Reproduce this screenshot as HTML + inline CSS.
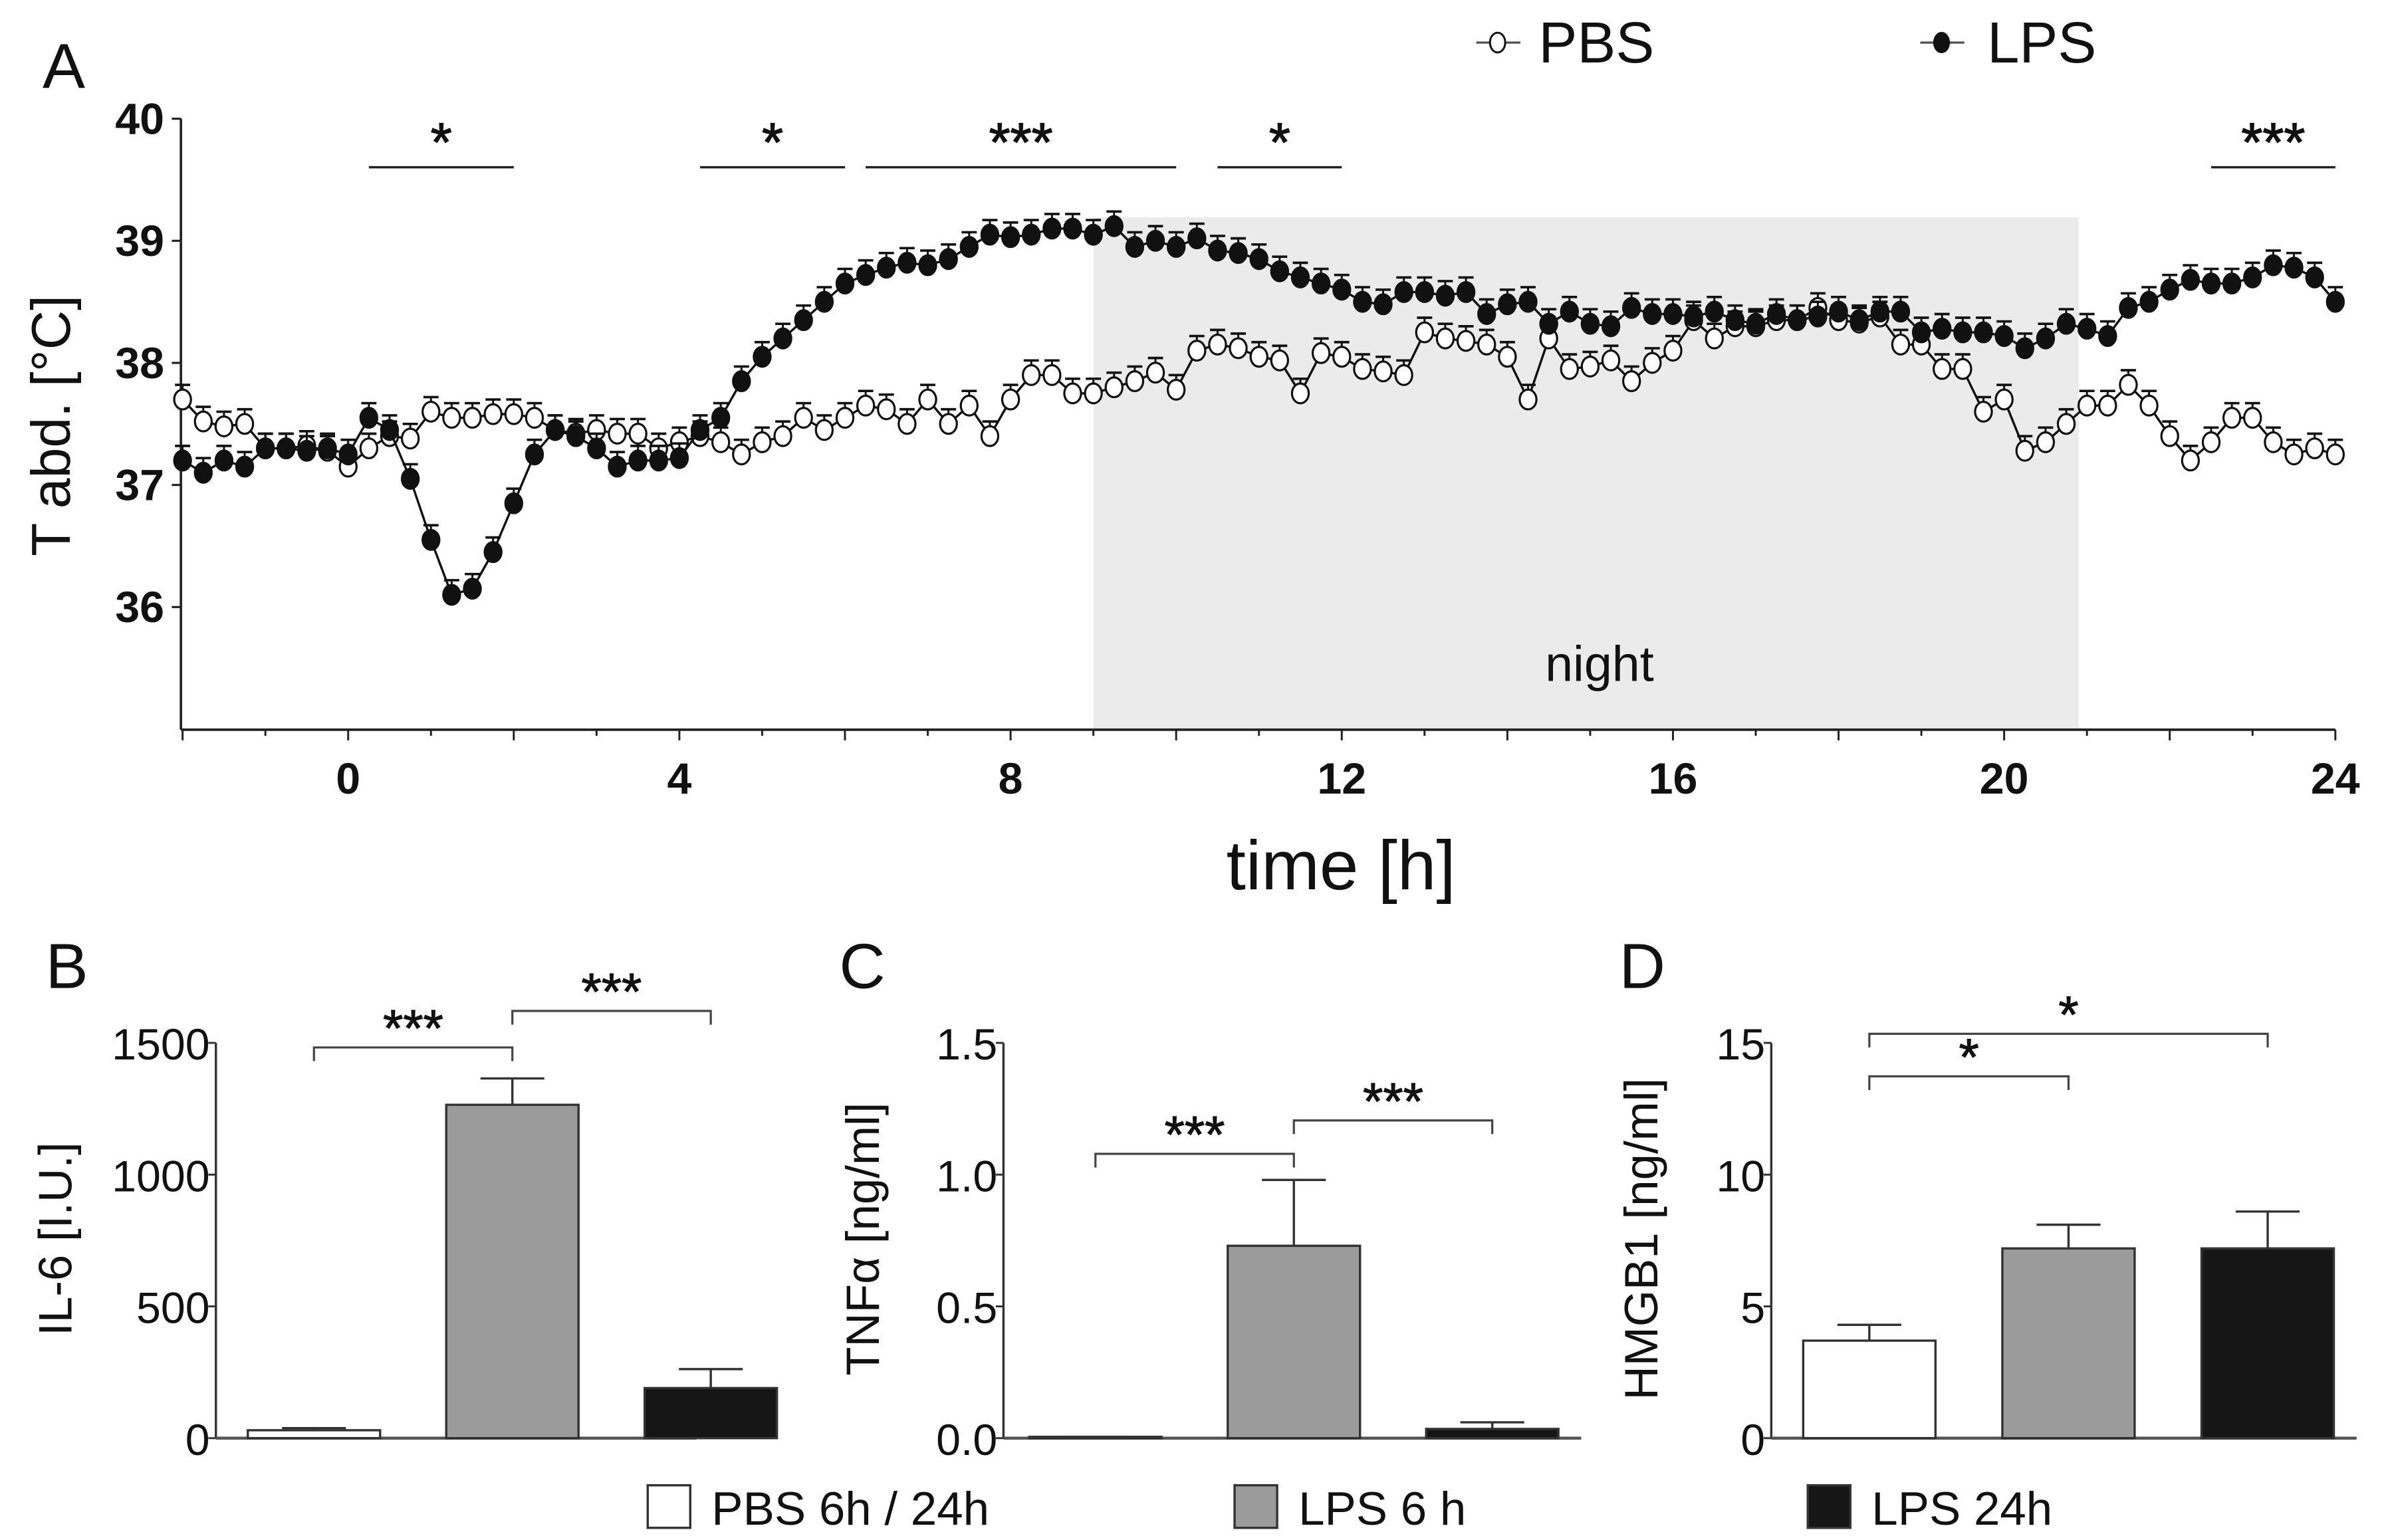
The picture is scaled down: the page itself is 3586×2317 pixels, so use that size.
<!DOCTYPE html>
<html><head><meta charset="utf-8">
<style>
html,body{margin:0;padding:0;background:#fff;}
svg{display:block;}
text{font-family:"Liberation Sans Narrow","Liberation Sans",sans-serif;fill:#111;}
</style></head>
<body>
<svg id="fig" xmlns="http://www.w3.org/2000/svg" width="3586" height="2317" viewBox="0 0 1568 1013" preserveAspectRatio="none">
<rect x="0" y="0" width="1568" height="1013" fill="#fff"/>
<g id="panelA"></g>
<g id="panelB"></g>
<g id="panelC"></g>
<g id="panelD"></g>
<g id="legendBottom"></g>
</svg>
<script>
// ---------- Panel A data ----------
const timeStart = -2, timeStep = 0.25;
const pbsTemp = [37.7,37.52,37.48,37.5,37.3,37.3,37.32,37.28,37.15,37.3,37.4,37.38,37.6,37.55,37.55,37.58,37.58,37.55,37.45,37.42,37.45,37.42,37.42,37.3,37.35,37.4,37.35,37.25,37.35,37.4,37.55,37.45,37.55,37.65,37.62,37.5,37.7,37.5,37.65,37.4,37.7,37.9,37.9,37.75,37.75,37.8,37.85,37.92,37.78,38.1,38.15,38.12,38.05,38.02,37.75,38.08,38.05,37.95,37.93,37.9,38.25,38.2,38.18,38.15,38.05,37.7,38.2,37.95,37.97,38.02,37.85,38.0,38.1,38.35,38.2,38.3,38.3,38.35,38.35,38.45,38.35,38.33,38.38,38.15,38.15,37.95,37.95,37.6,37.7,37.28,37.35,37.5,37.65,37.65,37.82,37.65,37.4,37.2,37.35,37.55,37.55,37.35,37.25,37.3,37.25];
const lpsTemp = [37.2,37.1,37.2,37.15,37.3,37.3,37.28,37.3,37.25,37.55,37.45,37.05,36.55,36.1,36.15,36.45,36.85,37.25,37.45,37.4,37.3,37.15,37.2,37.2,37.22,37.45,37.55,37.85,38.05,38.2,38.35,38.5,38.65,38.72,38.78,38.82,38.8,38.85,38.95,39.05,39.03,39.05,39.1,39.1,39.05,39.12,38.95,39.0,38.95,39.02,38.92,38.9,38.85,38.75,38.7,38.65,38.6,38.5,38.48,38.58,38.58,38.55,38.58,38.4,38.48,38.5,38.32,38.42,38.32,38.3,38.45,38.4,38.4,38.38,38.42,38.35,38.32,38.4,38.35,38.38,38.42,38.35,38.42,38.42,38.25,38.28,38.25,38.25,38.22,38.12,38.2,38.32,38.28,38.22,38.45,38.5,38.6,38.68,38.65,38.65,38.7,38.8,38.78,38.7,38.5];
const semA = 0.12;
const xTicksA = [0,4,8,12,16,20,24];
const yTicksA = [36,37,38,39,40];
const sigStartA = [0.25,4.25,6.25,10.5,22.5];
const sigEndA = [2.0,6.0,10.0,12.0,24.0];
const sigLabelA = ["*","*","***","*","***"];
const nightRange = [9,20.9];

// ---------- Bar panels data ----------
const barGroups = ["PBS 6h / 24h","LPS 6 h","LPS 24h"];
const il6Values = [30,1265,190];
const il6Errors = [8,100,72];
const il6Ticks = [0,500,1000,1500];
const tnfValues = [0.005,0.73,0.035];
const tnfErrors = [0.0,0.25,0.025];
const tnfTicks = [0.0,0.5,1.0,1.5];
const tnfTickLabels = ["0.0","0.5","1.0","1.5"];
const hmgbValues = [3.7,7.2,7.2];
const hmgbErrors = [0.6,0.9,1.4];
const hmgbTicks = [0,5,10,15];

const NS = "http://www.w3.org/2000/svg";
function el(parent, tag, attrs, txt){
  const e = document.createElementNS(NS, tag);
  for (const k in attrs) e.setAttribute(k, attrs[k]);
  if (txt !== undefined) e.textContent = txt;
  parent.appendChild(e);
  return e;
}

// ---------- Panel A ----------
(function(){
  const g = document.getElementById('panelA');
  const x0 = 119, x1 = 1536, yTop = 78, yBot = 480;
  const xs = t => 229 + (t - 0) * (1536 - 229) / 24;
  const ys = v => 319 - (v - 37) * 80.3;
  const night = el(g,'rect',{x:xs(nightRange[0]),y:143,width:xs(nightRange[1])-xs(nightRange[0]),height:yBot-143,fill:'#ebebeb'});
  
  
  const nt = el(g,'text',{x:1052,y:448,'font-size':33,'text-anchor':'middle'},'night');
  
  
  const ya = el(g,'line',{x1:x0,y1:yTop,x2:x0,y2:yBot,stroke:'#222','stroke-width':1.6});
  
  
  const xa = el(g,'line',{x1:x0,y1:yBot,x2:x1,y2:yBot,stroke:'#222','stroke-width':1.6});
  
  
  yTicksA.forEach(v=>{
    el(g,'line',{x1:x0-6,y1:ys(v),x2:x0,y2:ys(v),stroke:'#222','stroke-width':1.4});
    const t = el(g,'text',{x:x0-11,y:ys(v)+10,'font-size':29,'font-weight':'bold','text-anchor':'end'},String(v));
    
    
  });
  for (let h=-2; h<=24; h+=1){
    el(g,'line',{x1:xs(h),y1:yBot,x2:xs(h),y2:yBot+(h%2===0?7:4),stroke:'#222','stroke-width':1.3});
  }
  xTicksA.forEach(v=>{
    const t = el(g,'text',{x:xs(v),y:522,'font-size':29,'font-weight':'bold','text-anchor':'middle'},String(v));
    
    
  });
  const xt = el(g,'text',{x:882,y:585,'font-size':46,'text-anchor':'middle'},'time [h]');
  
  
  const yt = el(g,'text',{x:0,y:0,'font-size':36,'text-anchor':'middle',transform:'translate(46,280) rotate(-90)'},'T abd. [°C]');
  
  
  const lA = el(g,'text',{x:28,y:58,'font-size':42},'A');
  
  
  sigStartA.forEach((s,i)=>{
    const sl = el(g,'line',{x1:xs(s),y1:110,x2:xs(sigEndA[i]),y2:110,stroke:'#222','stroke-width':1.5});
    
    
    const st = el(g,'text',{x:(xs(s)+xs(sigEndA[i]))/2,y:106,'font-size':36,'text-anchor':'middle',stroke:'#111','stroke-width':0.6},sigLabelA[i]);
    
    
  });
  function series(data, filled, name){
    const sg = el(g,'g',{});
    
    
    const pts = data.map((v,i)=>[xs(timeStart+i*timeStep), ys(v)]);
    el(sg,'polyline',{points:pts.map(p=>p.join(',')).join(' '),fill:'none',stroke:'#111','stroke-width':1.5});
    pts.forEach((p,i)=>{
      const ye = ys(data[i]+semA);
      el(sg,'line',{x1:p[0],y1:p[1],x2:p[0],y2:ye,stroke:'#111','stroke-width':1.3});
      el(sg,'line',{x1:p[0]-5,y1:ye,x2:p[0]+5,y2:ye,stroke:'#111','stroke-width':1.6});
    });
    pts.forEach((p)=>{
      const c = el(sg,'ellipse',{cx:p[0],cy:p[1],rx:5.5,ry:6.5,fill:filled?'#111':'#fff',stroke:'#111','stroke-width':1.4});
      
      
    });
  }
  series(pbsTemp,false,'pbs-series');
  series(lpsTemp,true,'lps-series');
  const lg = el(g,'g',{});
  
  
  el(lg,'line',{x1:971,y1:28,x2:1000,y2:28,stroke:'#555','stroke-width':1.5});
  el(lg,'ellipse',{cx:985,cy:28,rx:5,ry:6.5,fill:'#fff',stroke:'#111','stroke-width':1.3});
  const lp = el(lg,'text',{x:1012,y:41,'font-size':38},'PBS');
  
  
  el(lg,'line',{x1:1263,y1:28,x2:1292,y2:28,stroke:'#555','stroke-width':1.5});
  el(lg,'ellipse',{cx:1277,cy:28,rx:5,ry:6.5,fill:'#111',stroke:'#111'});
  const ll = el(lg,'text',{x:1307,y:41,'font-size':38},'LPS');
  
  
})();

// ---------- Bar panels ----------
const barFills = ['#fff','#9b9b9b','#161616'];
function barPanel(id, cfg){
  const g = document.getElementById(id);
  const yTop = 686, yBot = 946;
  const ys = v => yBot - (v / cfg.max) * (yBot - yTop);
  el(g,'line',{x1:cfg.ax,y1:yTop,x2:cfg.ax,y2:yBot,stroke:'#333','stroke-width':1.5});
  const bl = el(g,'line',{x1:cfg.ax,y1:yBot,x2:cfg.axEnd,y2:yBot,stroke:'#555','stroke-width':2});
  
  
  cfg.ticks.forEach((v,i)=>{
    el(g,'line',{x1:cfg.ax-5,y1:ys(v),x2:cfg.ax,y2:ys(v),stroke:'#333','stroke-width':1.3});
    const t = el(g,'text',{x:cfg.ax-4,y:ys(v)+11,'font-size':29,'text-anchor':'end',fill:'#222'},cfg.tickLabels?cfg.tickLabels[i]:String(v));
    
    
  });
  cfg.values.forEach((v,i)=>{
    const bx = cfg.bar0 + i*cfg.gap, w = 87;
    const top = ys(v), eTop = ys(v + cfg.errors[i]);
    const cx = bx + w/2;
    el(g,'line',{x1:cx,y1:top,x2:cx,y2:eTop,stroke:'#333','stroke-width':1.5});
    el(g,'line',{x1:cx-21,y1:eTop,x2:cx+21,y2:eTop,stroke:'#333','stroke-width':1.5});
    const r = el(g,'rect',{x:bx,y:top,width:w,height:Math.max(yBot-top,1),fill:barFills[i],stroke:'#333','stroke-width':1.5});
    
    
  });
  cfg.brackets.forEach(b=>{
    const x1 = cfg.bar0 + b[0]*cfg.gap + 43.5, x2 = cfg.bar0 + b[1]*cfg.gap + 43.5;
    const bk = el(g,'path',{d:`M${x1},${b[2]+9} V${b[2]} H${x2} V${b[2]+9}`,fill:'none',stroke:'#444','stroke-width':1.4});
    
    
    const st = el(g,'text',{x:(x1+x2)/2,y:b[2]-1,'font-size':34,'text-anchor':'middle',stroke:'#111','stroke-width':0.5},b[3]);
    
    
  });
  const yt = el(g,'text',{x:0,y:0,'font-size':31,'text-anchor':'middle',transform:`translate(${cfg.titleX},815) rotate(-90)`},cfg.title);
  
  
  const lbl = el(g,'text',{x:cfg.labelX,y:650,'font-size':42},cfg.letter);
  
  
}
barPanel('panelB',{key:'il6',ax:142,axEnd:458,bar0:163,gap:130.5,max:1500,ticks:il6Ticks,values:il6Values,errors:il6Errors,
  brackets:[[0,1,689,'***'],[1,2,665,'***']],title:'IL-6 [I.U.]',titleX:47,labelX:30,letter:'B'});
barPanel('panelC',{key:'tnf',ax:660,axEnd:1040,bar0:677,gap:130.5,max:1.5,ticks:tnfTicks,tickLabels:tnfTickLabels,values:tnfValues,errors:tnfErrors,
  brackets:[[0,1,759,'***'],[1,2,737,'***']],title:'TNFα [ng/ml]',titleX:578,labelX:552,letter:'C'});
barPanel('panelD',{key:'hmgb1',ax:1165,axEnd:1550,bar0:1186,gap:131,max:15,ticks:hmgbTicks,values:hmgbValues,errors:hmgbErrors,
  brackets:[[0,1,708,'*'],[0,2,680,'*']],title:'HMGB1 [ng/ml]',titleX:1090,labelX:1065,letter:'D'});

// ---------- bottom legend ----------
(function(){
  const g = document.getElementById('legendBottom');
  const lx = [426,812,1189];
  barGroups.forEach((name,i)=>{
    el(g,'rect',{x:lx[i],y:977,width:28,height:28,fill:barFills[i],stroke:'#333','stroke-width':1.5});
    const t = el(g,'text',{x:lx[i]+42,y:1003,'font-size':31},name);
    
    
  });
})();
</script>
</body></html>
